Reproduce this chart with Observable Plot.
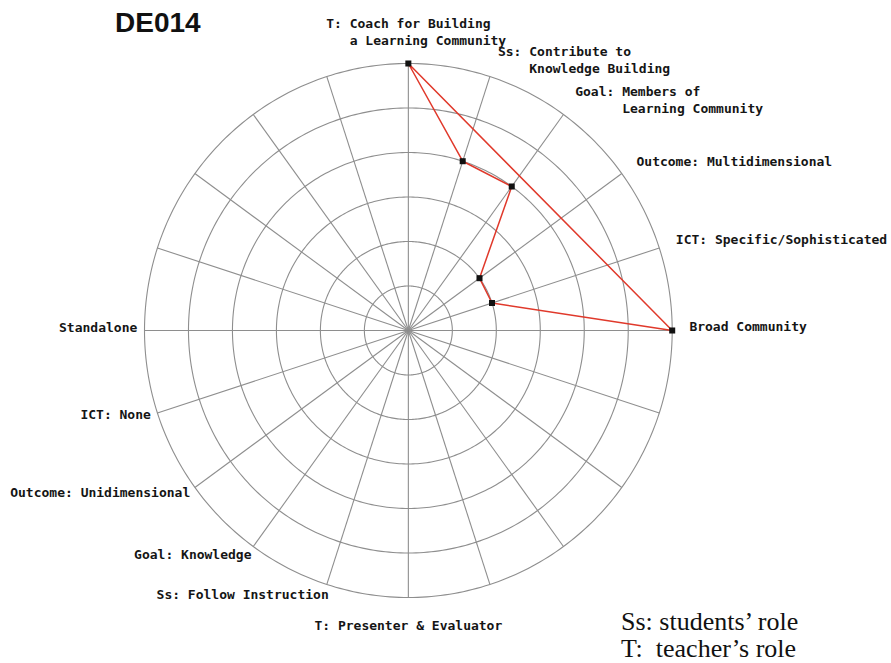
<!DOCTYPE html>
<html>
<head>
<meta charset="utf-8">
<script src="https://cdn.jsdelivr.net/npm/d3@7"></script>
<script src="https://cdn.jsdelivr.net/npm/@observablehq/plot@0.6"></script>
<style>
  body { margin: 0; background: #fff; }
  #wrap { position: relative; width: 891px; height: 663px; background: #fff; overflow: hidden; }
  #chart { position: absolute; left: 0; top: 0; }
  #title { position: absolute; left: 115px; top: 9px; font: bold 28px/28px "Liberation Sans", Arial, sans-serif; color: #111; }
  #note { position: absolute; left: 621px; top: 608px; font: 26px/27px "Liberation Serif", "Times New Roman", serif; color: #111; white-space: pre; }
</style>
</head>
<body>
<div id="wrap">
  <div id="chart"></div>
  <div id="title"></div>
  <div id="note"></div>
</div>
<script>
const NB = "\u00A0";
// 20 spokes, clockwise from the top (18° apart); blank spokes have no label
const spokeLabels = [
  "T: Coach for Building\n" + NB.repeat(3) + "a Learning Community",
  "Ss: Contribute to\n" + NB.repeat(4) + "Knowledge Building",
  "Goal: Members of\n" + NB.repeat(6) + "Learning Community",
  "Outcome: Multidimensional",
  "ICT: Specific/Sophisticated",
  "Broad Community",
  "", "", "", "",
  "T: Presenter & Evaluator",
  "Ss: Follow Instruction",
  "Goal: Knowledge",
  "Outcome: Unidimensional",
  "ICT: None",
  "Standalone",
  "", "", "", ""
];
const ringLevels = [1, 2, 3, 4, 5, 6];
const radarSpokes = [0, 1, 2, 3, 4, 5];
const radarScores = [6, 4, 4, 2, 2, 6];
const chartTitle = "DE014";
const noteLines = ["Ss: students’ role", "T:  teacher’s role"];

document.getElementById("title").textContent = chartTitle;
document.getElementById("note").textContent = noteLines.join("\n");

const nSpokes = spokeLabels.length;
const maxLevel = d3.max(ringLevels);
const angleOf = i => (i * 2 * Math.PI) / nSpokes;
const px = (i, r) => r * Math.sin(angleOf(i));
const py = (i, r) => r * Math.cos(angleOf(i));

// ring outlines sampled around the circle
const ringPts = ringLevels.flatMap(level =>
  d3.range(0, 361).map(deg => ({
    level,
    x: level * Math.sin(deg * Math.PI / 180),
    y: level * Math.cos(deg * Math.PI / 180)
  }))
);
const spokes = d3.range(nSpokes).map(i => ({ i }));
const radar = radarSpokes.map((s, k) => ({ i: s, v: radarScores[k] }));

const labelR = maxLevel * 1.05;
const labels = spokeLabels.map((text, i) => ({ text, i })).filter(d => d.text);
const half = nSpokes / 2;
const topL = labels.filter(d => d.i === 0);
const botL = labels.filter(d => d.i === half);
const rightL = labels.filter(d => d.i > 0 && d.i < half);
const leftL = labels.filter(d => d.i > half);

const fontSize = 13;
const charW = fontSize * 0.602;
const textOpts = {
  x: d => px(d.i, labelR),
  y: d => py(d.i, labelR),
  text: "text",
  fontFamily: "DejaVu Sans Mono",
  fontSize,
  fontWeight: "bold",
  lineHeight: 1.33,
  fill: "#151515"
};
const grid = "#8e8e8e";

const chart = Plot.plot({
  width: 891,
  height: 663,
  margin: 0,
  x: { domain: [-maxLevel, maxLevel], range: [144, 671.7], axis: null },
  y: { domain: [-maxLevel, maxLevel], range: [597, 63], axis: null },
  style: { background: "white", overflow: "visible" },
  marks: [
    Plot.line(ringPts, { x: "x", y: "y", z: "level", stroke: grid, strokeWidth: 1.1 }),
    Plot.link(spokes, {
      x1: () => 0, y1: () => 0,
      x2: d => px(d.i, maxLevel), y2: d => py(d.i, maxLevel),
      stroke: grid, strokeWidth: 1.1
    }),
    Plot.line(radar, {
      x: d => px(d.i, d.v), y: d => py(d.i, d.v),
      curve: "linear-closed", stroke: "#e0392b", strokeWidth: 1.5
    }),
    Plot.dot(radar, {
      x: d => px(d.i, d.v), y: d => py(d.i, d.v),
      symbol: "square", r: 3.4, fill: "#111", stroke: "none"
    }),
    Plot.text(rightL, { ...textOpts, textAnchor: "start", lineAnchor: "middle", dx: 4, dy: -5 }),
    Plot.text(leftL, { ...textOpts, textAnchor: "end", lineAnchor: "middle", dx: 6, dy: -4 }),
    Plot.text(topL, {
      ...textOpts, textAnchor: "start", lineAnchor: "middle",
      dx: -(topL.length ? topL[0].text.split("\n")[0].length : 0) * charW / 2, dy: -19
    }),
    Plot.text(botL, { ...textOpts, textAnchor: "middle", lineAnchor: "middle", dy: 14 })
  ]
});
document.getElementById("chart").appendChild(chart);
</script>
</body>
</html>
